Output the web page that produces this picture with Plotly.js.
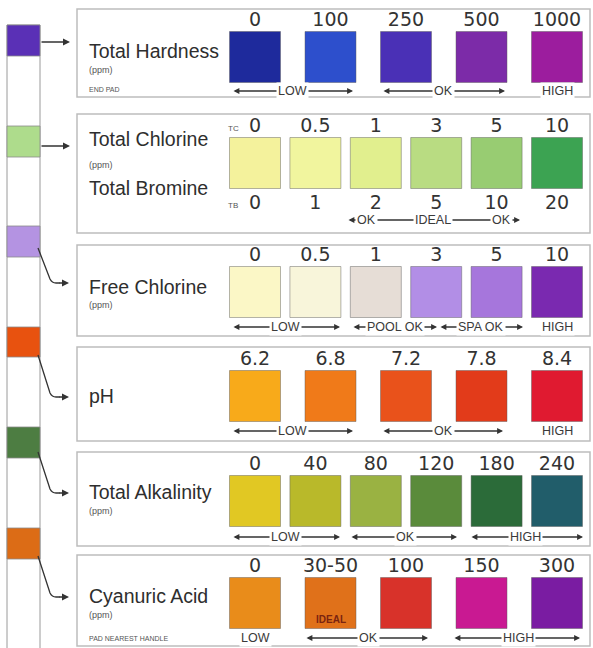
<!DOCTYPE html>
<html>
<head>
<meta charset="utf-8">
<script src="https://cdn.plot.ly/plotly-3.0.1.min.js"></script>
<style>html,body{margin:0;padding:0;background:#fff;}#chart{width:593px;height:648px;}</style>
</head>
<body>
<div id="chart"></div>
<script>
// ---------- DATA ----------
const tests = ['Total Hardness', 'Total Chlorine', 'Free Chlorine', 'pH', 'Total Alkalinity', 'Cyanuric Acid'];
const padColors = ['#5a30b6', '#aedc8c', '#b493e2', '#e8520f', '#4d7d42', '#dc6c16'];

const hardnessLabels = ['0', '100', '250', '500', '1000'];
const hardnessColors = ['#1e2a9c', '#2d4fcc', '#4a30b6', '#7c2ba8', '#9c1d9e'];

const chlorineLabels = ['0', '0.5', '1', '3', '5', '10'];
const bromineLabels = ['0', '1', '2', '5', '10', '20'];
const chlorineColors = ['#f4f29c', '#f1f59e', '#e1ef8e', '#b9dc82', '#98cc72', '#3ca352'];

const freeChlorineLabels = ['0', '0.5', '1', '3', '5', '10'];
const freeChlorineColors = ['#fbf7c6', '#f8f5da', '#e6ddd6', '#b28ee6', '#a676dc', '#7a29b0'];

const phLabels = ['6.2', '6.8', '7.2', '7.8', '8.4'];
const phColors = ['#f8aa1a', '#f07a19', '#e9521b', '#e23b1a', '#e01a30'];

const alkalinityLabels = ['0', '40', '80', '120', '180', '240'];
const alkalinityColors = ['#e1c823', '#b9b92a', '#9ab242', '#5a8b3b', '#2b6b39', '#215d6a'];

const cyanuricLabels = ['0', '30-50', '100', '150', '300'];
const cyanuricColors = ['#e98c1a', '#e0711a', '#d8322a', '#c91992', '#7a1ca2'];

const rangeTexts = [
  ['LOW', 'OK', 'HIGH'],
  ['OK', 'IDEAL', 'OK'],
  ['LOW', 'POOL OK', 'SPA OK', 'HIGH'],
  ['LOW', 'OK', 'HIGH'],
  ['LOW', 'OK', 'HIGH'],
  ['LOW', 'OK', 'HIGH']
];

// ---------- LAYOUT GEOMETRY (pixel space) ----------
const rowsData = [
  {labels: hardnessLabels, colors: hardnessColors},
  {labels: chlorineLabels, colors: chlorineColors},
  {labels: freeChlorineLabels, colors: freeChlorineColors},
  {labels: phLabels, colors: phColors},
  {labels: alkalinityLabels, colors: alkalinityColors},
  {labels: cyanuricLabels, colors: cyanuricColors}
];
const rowCenterY = [57, 163, 292, 396, 501, 603];
const firstX = 255, lastX = 557;
const boxes = [[9, 97], [114, 233], [245, 336], [347, 441], [452, 546], [555, 646]];
const padY = [[25, 56], [126, 157], [226, 257], [327, 357], [427, 458], [528, 559]];
// range arrows per row: [x0, x1, textX] (x0 null -> text only)
const rangeGeom = [
  {y: 91, items: [[232, 353, 292], [382, 505, 443], [null, null, 557]]},
  {y: 220, items: [[347, 520, 364], [null, null, 433], [null, null, 503]], joined: true},
  {y: 327, items: [[232, 340, 285], [352, 437, 395], [439, 523, 481], [null, null, 557]]},
  {y: 431, items: [[232, 353, 292], [382, 503, 443], [null, null, 557]]},
  {y: 537, items: [[232, 340, 285], [350, 457, 405], [470, 583, 525]]},
  {y: 638, items: [[null, null, 255], [305, 428, 368], [453, 580, 518]]}
];
const titleGeom = [
  [{t: tests[0], y: 51, s: 19.5}, {t: '(ppm)', y: 70, s: 9}, {t: 'END PAD', y: 89, s: 7}],
  [{t: tests[1], y: 139, s: 19.5}, {t: '(ppm)', y: 165, s: 9}, {t: 'Total Bromine', y: 188, s: 19.5}],
  [{t: tests[2], y: 287, s: 19.5}, {t: '(ppm)', y: 305, s: 9}],
  [{t: tests[3], y: 396, s: 19.5}],
  [{t: tests[4], y: 492, s: 19.5}, {t: '(ppm)', y: 511, s: 9}],
  [{t: tests[5], y: 596, s: 19.5}, {t: '(ppm)', y: 615, s: 9}, {t: 'PAD NEAREST HANDLE', y: 638, s: 7}]
];

const FONT = 'Liberation Sans, Arial, sans-serif';
const NUMFONT = 'DejaVu Sans, Liberation Sans, sans-serif';
const INK = '#333';

const traces = [];
const shapes = [];
const annotations = [];

// panel boxes
boxes.forEach(b => {
  shapes.push({type: 'rect', xref: 'x', yref: 'y', x0: 77, x1: 590, y0: b[0], y1: b[1],
    line: {color: '#bdbdbd', width: 1.5}, fillcolor: 'rgba(0,0,0,0)', layer: 'below'});
});

// strip
shapes.push({type: 'rect', xref: 'x', yref: 'y', x0: 7, x1: 40, y0: 25, y1: 660,
  line: {color: '#9a9a9a', width: 1}, fillcolor: '#fff', layer: 'below'});
padY.forEach((p, i) => {
  shapes.push({type: 'rect', xref: 'x', yref: 'y', x0: 7, x1: 40, y0: p[0], y1: p[1],
    line: {color: '#8a8a8a', width: 0.8}, fillcolor: padColors[i], layer: 'below'});
});

// connector arrows
const connectors = [
  {straight: true, y: 42},
  {straight: true, y: 146},
  {y0: 248, y: 283},
  {y0: 355, y: 397},
  {y0: 452, y: 493},
  {y0: 556, y: 597}
];
connectors.forEach(c => {
  if (c.straight) {
    annotations.push({x: 70, y: c.y, ax: 40, ay: c.y, axref: 'x', ayref: 'y', xref: 'x', yref: 'y',
      text: '', showarrow: true, arrowhead: 2, arrowsize: 1, arrowwidth: 1.4, arrowcolor: INK});
  } else {
    shapes.push({type: 'path', xref: 'x', yref: 'y',
      path: `M 38 ${c.y0} L 50 ${c.y - 4} Q 52 ${c.y} 56 ${c.y} L 60 ${c.y}`,
      line: {color: INK, width: 1.3}});
    annotations.push({x: 69, y: c.y, ax: 58, ay: c.y, axref: 'x', ayref: 'y', xref: 'x', yref: 'y',
      text: '', showarrow: true, arrowhead: 2, arrowsize: 1, arrowwidth: 1.4, arrowcolor: INK});
  }
});

// swatches + labels
rowsData.forEach((row, r) => {
  const n = row.labels.length;
  const step = (lastX - firstX) / (n - 1);
  const xs = row.labels.map((_, i) => firstX + i * step);
  const ys = row.labels.map(() => rowCenterY[r]);
  traces.push({
    type: 'scatter', mode: 'markers', x: xs, y: ys, hoverinfo: 'skip',
    marker: {symbol: 'square', size: 51, color: row.colors, line: {color: 'rgba(90,90,90,0.45)', width: 1}}
  });
  traces.push({
    type: 'scatter', mode: 'text', x: xs, y: ys.map(v => v - 36), text: row.labels, hoverinfo: 'skip',
    textfont: {family: NUMFONT, size: 19, color: INK}
  });
  if (r === 1) {
    traces.push({
      type: 'scatter', mode: 'text', x: xs, y: ys.map(v => v + 41), text: bromineLabels, hoverinfo: 'skip',
      textfont: {family: NUMFONT, size: 19, color: INK}
    });
    annotations.push({x: 233, y: 128, xref: 'x', yref: 'y', text: 'TC', showarrow: false,
      font: {family: FONT, size: 8, color: '#555'}});
    annotations.push({x: 233, y: 205, xref: 'x', yref: 'y', text: 'TB', showarrow: false,
      font: {family: FONT, size: 8, color: '#555'}});
  }
  if (r === 5) {
    annotations.push({x: xs[1], y: ys[1] + 16, xref: 'x', yref: 'y', text: '<b>IDEAL</b>', showarrow: false,
      font: {family: FONT, size: 10, color: '#7a2410'}});
  }
});

// range indicators
rangeGeom.forEach((rg, r) => {
  rg.items.forEach((it) => {
    const [x0, x1] = it;
    if (x0 !== null) {
      annotations.push({x: x1, y: rg.y, ax: x0, ay: rg.y, axref: 'x', ayref: 'y', xref: 'x', yref: 'y',
        text: '', showarrow: true, arrowhead: 2, arrowside: 'end+start', arrowsize: 0.9, arrowwidth: 1.3, arrowcolor: INK});
    }
  });
  rg.items.forEach((it, k) => {
    const tx = rg.joined ? [366, 433, 501][k] : it[2];
    annotations.push({x: tx, y: rg.y, xref: 'x', yref: 'y', text: rangeTexts[r][k], showarrow: false,
      bgcolor: '#ffffff', borderpad: 1,
      font: {family: FONT, size: 12.5, color: '#3a3a3a'}});
  });
});

// titles
titleGeom.forEach(list => list.forEach(t => {
  annotations.push({x: 87, y: t.y, xref: 'x', yref: 'y', xanchor: 'left', text: t.t, showarrow: false,
    font: {family: FONT, size: t.s, color: t.s > 10 ? '#2e2e2e' : '#555'}});
}));

const layout = {
  width: 593, height: 648,
  margin: {l: 0, r: 0, t: 0, b: 0},
  paper_bgcolor: '#ffffff', plot_bgcolor: '#ffffff',
  showlegend: false,
  xaxis: {range: [0, 593], visible: false, fixedrange: true},
  yaxis: {range: [648, 0], visible: false, fixedrange: true},
  shapes: shapes,
  annotations: annotations
};

Plotly.newPlot('chart', traces, layout, {displayModeBar: false, staticPlot: true});
</script>
</body>
</html>
